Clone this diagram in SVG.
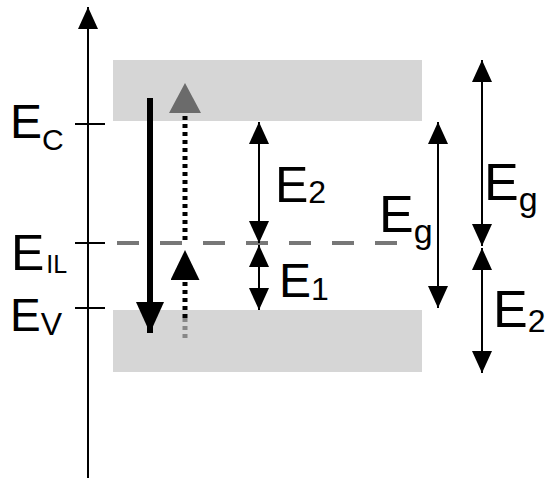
<svg xmlns="http://www.w3.org/2000/svg" width="546" height="479" viewBox="0 0 546 479">
<style>
.lbl{font-family:"Liberation Sans",Arial,sans-serif;fill:#000}
.thin{stroke:#000;stroke-width:2;fill:none}
.band{fill:#d6d6d6}
</style>
<defs>
<marker id="ah" markerUnits="userSpaceOnUse" markerWidth="22" markerHeight="20" refX="22" refY="10" orient="auto-start-reverse" viewBox="0 0 22 20"><path d="M0,0 L22,10 L0,20 z" fill="#000"/></marker>
<marker id="ahBig" markerUnits="userSpaceOnUse" markerWidth="31" markerHeight="28" refX="31" refY="14" orient="auto" viewBox="0 0 31 28"><path d="M0,0 L31,14 L0,28 z" fill="#000"/></marker>
<marker id="ahGray" markerUnits="userSpaceOnUse" markerWidth="30" markerHeight="32" refX="30" refY="16" orient="auto" viewBox="0 0 30 32"><path d="M0,0 L30,16 L0,32 z" fill="#6b6b6b"/></marker>
<marker id="ahDot" markerUnits="userSpaceOnUse" markerWidth="30" markerHeight="29" refX="30" refY="14.5" orient="auto" viewBox="0 0 30 29"><path d="M0,0 L30,14.5 L0,29 z" fill="#000"/></marker>
</defs>

<g id="bands">
<rect class="band" x="113" y="60" width="309" height="61"/>
<rect class="band" x="113" y="310" width="309" height="62"/>
</g>

<g id="axis">
<line x1="88" y1="478" x2="88" y2="7" stroke="#000" stroke-width="2" marker-end="url(#ah)"/>
<line x1="75" y1="124" x2="105" y2="124" stroke="#000" stroke-width="2"/>
<line x1="75" y1="243" x2="105" y2="243" stroke="#000" stroke-width="2"/>
<line x1="75" y1="308" x2="105" y2="308" stroke="#000" stroke-width="2"/>
</g>

<g id="level-IL">
<line x1="117" y1="243" x2="404" y2="243" stroke="#777" stroke-width="4" stroke-dasharray="22 21"/>
</g>

<g id="labels-left">
<text class="lbl" x="10" y="138" font-size="48">E<tspan y="150" font-size="30">C</tspan></text>
<text class="lbl" x="11" y="270" font-size="50">E<tspan dx="2" y="273" font-size="25">IL</tspan></text>
<text class="lbl" x="10" y="331" font-size="46">E<tspan y="335" font-size="32">V</tspan></text>
</g>

<g id="connectors">
<line x1="150" y1="98" x2="150" y2="333" stroke="#000" stroke-width="6" marker-end="url(#ahBig)"/>
<line x1="185" y1="113" x2="185" y2="83" stroke="none" marker-end="url(#ahGray)"/>
<line x1="185" y1="116" x2="185" y2="244" stroke="#000" stroke-width="5" stroke-dasharray="4 4"/>
<line x1="185" y1="280" x2="185" y2="250" stroke="none" marker-end="url(#ahDot)"/>
<line x1="185" y1="282" x2="185" y2="318" stroke="#000" stroke-width="5" stroke-dasharray="4 4"/>
<line x1="185" y1="318" x2="185" y2="338" stroke="#888" stroke-width="5" stroke-dasharray="4 4"/>

<line class="thin" x1="259" y1="122" x2="259" y2="243" marker-start="url(#ah)" marker-end="url(#ah)"/>
<line class="thin" x1="259" y1="245" x2="259" y2="310" marker-start="url(#ah)" marker-end="url(#ah)"/>
<line class="thin" x1="438" y1="122" x2="438" y2="308" marker-start="url(#ah)" marker-end="url(#ah)"/>
<line class="thin" x1="482" y1="60" x2="482" y2="246" marker-start="url(#ah)" marker-end="url(#ah)"/>
<line class="thin" x1="482" y1="248" x2="482" y2="373" marker-start="url(#ah)" marker-end="url(#ah)"/>
</g>

<g id="labels-right">
<text class="lbl" x="275" y="202" font-size="50">E<tspan y="203" font-size="32">2</tspan></text>
<text class="lbl" x="279" y="297" font-size="48">E<tspan y="300" font-size="32">1</tspan></text>
<text class="lbl" x="379" y="232" font-size="52">E<tspan y="243" font-size="34">g</tspan></text>
<text class="lbl" x="484" y="200" font-size="52">E<tspan y="211" font-size="34">g</tspan></text>
<text class="lbl" x="493" y="327" font-size="52">E<tspan y="332" font-size="32">2</tspan></text>
</g>
</svg>
